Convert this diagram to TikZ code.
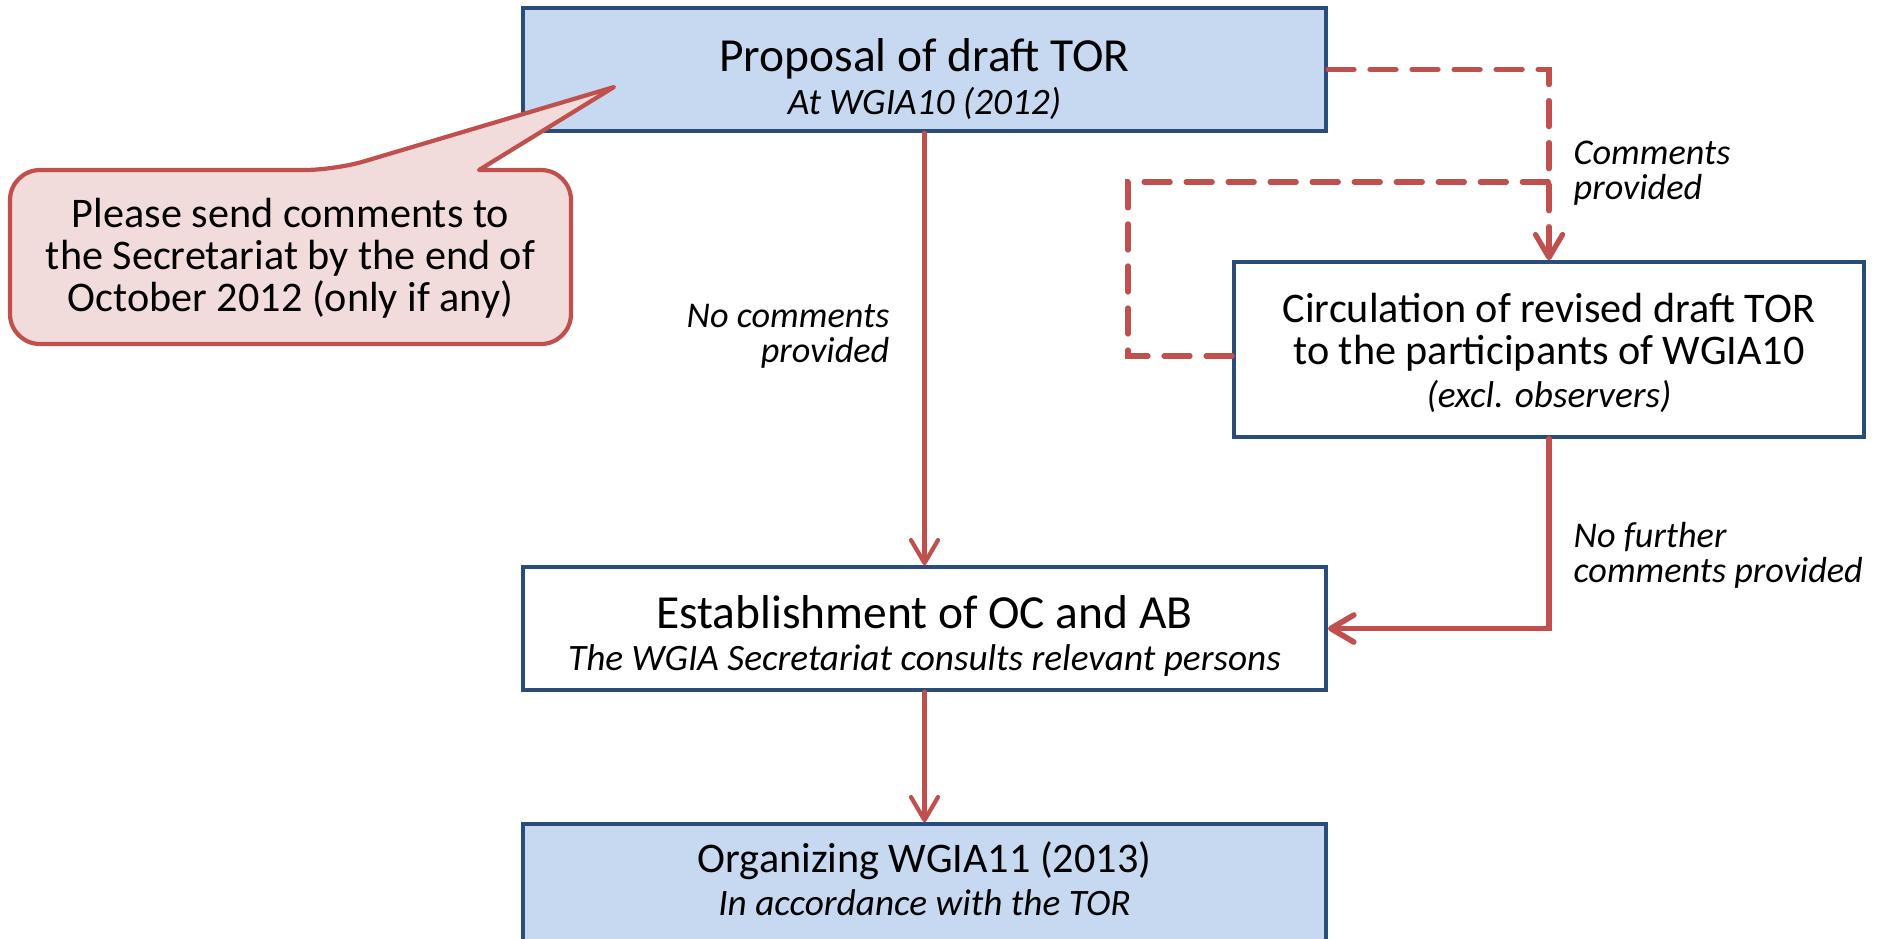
\documentclass[tikz,border=0pt]{standalone}
\usepackage{fontspec}
\setmainfont{Carlito}
\usepackage{tikz}
\usetikzlibrary{arrows.meta,positioning}
\definecolor{boxblue}{HTML}{C6D9F1}
\definecolor{boxline}{HTML}{2A4C7A}
\definecolor{flowred}{HTML}{C0504D}
\definecolor{notepink}{HTML}{F2DCDB}
\lineskiplimit=-100pt
\tikzset{
  box/.style={draw=boxline,line width=1pt,align=center,inner sep=0pt,
    minimum width=8.03cm,minimum height=1.23cm,text depth=0pt},
  bluebox/.style={box,fill=boxblue},
  lbl/.style={font=\itshape\fontsize{10.3}{9.8}\selectfont,inner sep=0pt},
  flow/.style={draw=flowred,line width=1.2pt,
    -{Straight Barb[length=0.23cm,width=0.27cm,round]}},
  dashflow/.style={flow,line width=1.5pt,dash pattern=on 0.26cm off 0.16cm}
}

\begin{document}
\begin{tikzpicture}[x=0.01cm,y=-0.01cm,line cap=round]
  \useasboundingbox (0,0) rectangle (1878,938);

  \node [bluebox,text height=25.3pt] (prop) at (924.5,69.5)
    {\fontsize{13.5}{14}\selectfont Proposal of draft TOR\\
     \itshape\fontsize{10.6}{13.1}\selectfont At WGIA10 (2012)};
  \node [box,minimum width=6.30cm,minimum height=1.75cm,text height=32.7pt] (circ) at (1549,349.5)
    {\fontsize{12}{12}\selectfont Circulation of revised draft TOR\\
     \fontsize{12}{10.6}\selectfont to the participants of WGIA10\\
     \itshape\fontsize{10.6}{13.8}\selectfont (excl. observers)};
  \node [box,text height=23.9pt] (est) at (924.5,628.5)
    {\fontsize{13.5}{14}\selectfont Establishment of OC and AB\\
     \itshape\fontsize{10.6}{14.2}\selectfont The WGIA Secretariat consults relevant persons};
  \node [bluebox,text height=16.8pt] (org) at (924.5,885.5)
    {\fontsize{12}{13}\selectfont Organizing WGIA11 (2013)\\
     \itshape\fontsize{10.6}{11.4}\selectfont In accordance with the TOR};

  % callout
  \coordinate (tip) at (614,87);
  \draw [draw=flowred,fill=notepink,line width=1.2pt,line join=round]
    (tip) -- (479,170) -- (480,170) [rounded corners=0.3cm] -- (571,170)
    -- (571,344) -- (10,344) -- (10,170) -- (335,170) [sharp corners] -- cycle;
  \node [align=center,font=\fontsize{12}{11.9}\selectfont,anchor=base] (note) at (290.5,311)
    {Please send comments to\\the Secretariat by the end of\\October 2012 (only if any)};

  % labels
  \node [lbl,align=right,anchor=base east] (nocom) at (890,362) {No comments\\provided};
  \node [lbl,align=left,anchor=base west] (com) at (1573,199) {Comments\\provided};
  \node [lbl,align=left,anchor=base west] (nofur) at (1573,582) {No further\\comments provided};

  % arrows
  \draw [flow] (prop.south) -- (est.north);
  \draw [flow] (est.south) -- (org.north);
  \draw [flow,line width=1.6pt] (circ.south) |- (est.east);
  \draw [dashflow] (prop.east) -| (circ.north);
  \coordinate (back) at (1128,182);
  \draw [dashflow,-] ([yshift=-0.065cm]circ.west) -| (back) -- (back -| circ.north);
\end{tikzpicture}
\end{document}
